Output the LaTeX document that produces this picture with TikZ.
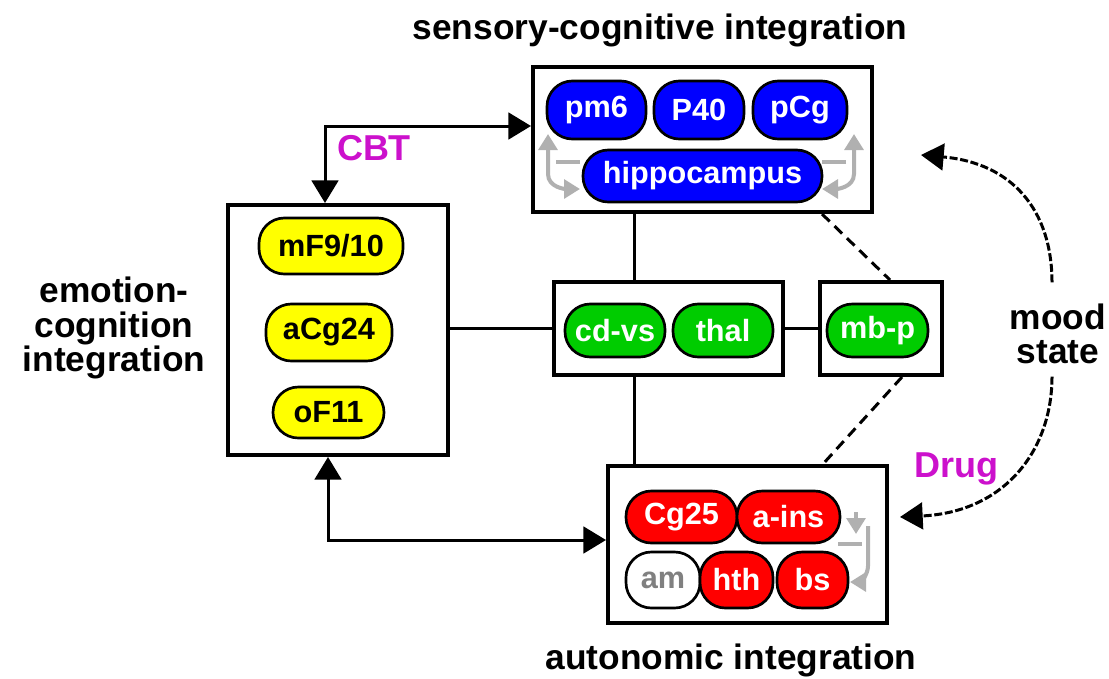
\documentclass[tikz,border=0pt]{standalone}
\usepackage{fontspec}
\setmainfont{Liberation Sans}
\usetikzlibrary{arrows.meta}
\definecolor{pblue}{HTML}{0000FF}
\definecolor{pyellow}{HTML}{FFFF00}
\definecolor{pgreen}{HTML}{00CC00}
\definecolor{pred}{HTML}{FF0000}
\definecolor{pmag}{HTML}{CC11CC}
\definecolor{pgray}{HTML}{B0B0B0}
\definecolor{tgray}{HTML}{808080}
\newcommand\pillfnt{\fontsize{23}{25}\selectfont\bfseries}
\newcommand\lblfnt{\fontsize{26.5}{26}\selectfont\bfseries}
\newcommand\magfnt{\fontsize{27}{28}\selectfont\bfseries}
\begin{document}
\begin{tikzpicture}[x=0.75pt,y=-0.75pt,
  >={Triangle[length=17pt,width=20pt]},
  box/.style 2 args={draw,line width=3pt,minimum width=#1*0.75pt,minimum height=#2*0.75pt,inner sep=0pt},
  pill/.style 2 args={draw,line width=2pt,rounded corners=19pt,minimum width=#1*0.75pt,minimum height=#2*0.75pt,inner sep=0pt,font=\pillfnt,text=white},
  lbl/.style={font=\lblfnt,inner sep=0pt},
  mlbl/.style={font=\magfnt,text=pmag,inner sep=0pt},
  conn/.style={line width=2.25pt},
  dconn/.style={line width=2.25pt,dash pattern=on 8pt off 5pt},
  arc/.style={line width=2.25pt,dash pattern=on 6pt off 2pt},
  garrow/.style={draw=pgray,line width=3pt},
  gtip/.tip={Triangle[length=12pt,width=14pt]}
]
\useasboundingbox[fill=white] (0,0) rectangle (1109,678);

% boxes
\node[box={339}{145}] (sc) at (702.5,139.5) {};
\node[box={220}{250}] (ec) at (338,330) {};
\node[box={229}{93}] (mid) at (668.5,328.5) {};
\node[box={122}{93}] (mbpbox) at (881,328.5) {};
\node[box={279}{157}] (au) at (747.5,544.5) {};

% top pills
\node[pill={99}{58},fill=pblue] (pm6) at (596.5,110) {pm6};
\node[pill={90}{58},fill=pblue] (p40) at (699,110) {P40};
\node[pill={94}{58},fill=pblue] (pcg) at (800,110) {pCg};
\node[pill={239}{52},fill=pblue] (hip) at (702.5,176) {hippocampus};

% left pills
\node[pill={144}{56},fill=pyellow,text=black] (mf) at (331,246) {mF9/10};
\node[pill={126}{57},fill=pyellow,text=black] (acg) at (329,332.5) {aCg24};
\node[pill={111}{51},fill=pyellow,text=black] (of) at (328.5,412.5) {oF11};

% middle pills
\node[pill={100}{53},fill=pgreen] (cdvs) at (615,330.5) {cd-vs};
\node[pill={100}{53},fill=pgreen] (thal) at (723,330.5) {thal};
\node[pill={101}{53},fill=pgreen] (mbp) at (877.5,330.5) {mb-p};

% bottom pills
\node[pill={111}{52},fill=pred] (cg25) at (681.5,517) {Cg25};
\node[pill={103}{52},fill=pred] (ains) at (788.5,517) {a-ins};
\node[pill={74}{56},fill=white,text=tgray] (am) at (663,580) {am};
\node[pill={73}{56},fill=pred] (hth) at (736.5,580) {hth};
\node[pill={71}{56},fill=pred] (bs) at (812.5,580) {bs};

% gray loop arrows
\draw[garrow,{gtip}-{gtip}] (548,134) -- (548,174) to[out=-90,in=180] (580,189);
\draw[garrow] (556,162) -- (580,162);
\draw[garrow,{gtip}-{gtip}] (854,134) -- (854,174) to[out=-90,in=0] (822,189);
\draw[garrow] (846,162) -- (822,162);
\draw[garrow,{gtip}-] (856,534) -- (856,512);
\draw[garrow] (838,544) -- (862,544);
\draw[garrow,-{gtip}] (868,526) -- (868,566) to[out=-90,in=0] (850,582);

% labels
\node[lbl] (title) at (660,30) {sensory-cognitive integration};
\node[lbl,align=center] (emo) at (114,328) {emotion-\\cognition\\integration};
\node[lbl,align=center] (mood) at (1058,334) {mood\\state};
\node[lbl] (autolbl) at (731,660) {autonomic integration};
\node[mlbl] (cbt) at (374,148) {CBT};
\node[mlbl] (drug) at (956,469) {Drug};

% connector coordinates
\coordinate (vx) at (634,0);
\coordinate (d1) at (822,0);
\coordinate (d2) at (890,0);
\coordinate (d3) at (902,0);
\coordinate (d4) at (823,0);
\coordinate (cbtc) at (325,126);
\coordinate (botc) at (328,540);
\coordinate (m1) at (921,155);
\coordinate (m2) at (900,517);
\coordinate (ms1) at (1052,282);
\coordinate (ms2) at (1052,378);

% solid connectors
\draw[conn] (ec.east |- mid.west) -- (mid.west);
\draw[conn] (mid.north -| vx) -- (sc.south -| vx);
\draw[conn] (mid.south -| vx) -- (au.north -| vx);
\draw[conn] (mid.east) -- (mbpbox.west);
% dashed connectors
\draw[dconn] (sc.south -| d1) -- (mbpbox.north -| d2);
\draw[dconn] (mbpbox.south -| d3) -- (au.north -| d4);
% CBT and lower arrows
\draw[conn,<->] (ec.north -| cbtc) -- (cbtc) -- (cbtc -| sc.west);
\draw[conn,<->] (ec.south -| botc) -- (botc) -- (botc -| au.west);
% mood arcs
\draw[arc,->] (mood.north -| ms1) ++(0,-21) .. controls (1052,210) and (1012,163) .. (m1);
\draw[arc,->] (mood.south -| ms2) ++(0,12) .. controls (1052,450) and (1005,512) .. (m2);
\end{tikzpicture}
\end{document}
